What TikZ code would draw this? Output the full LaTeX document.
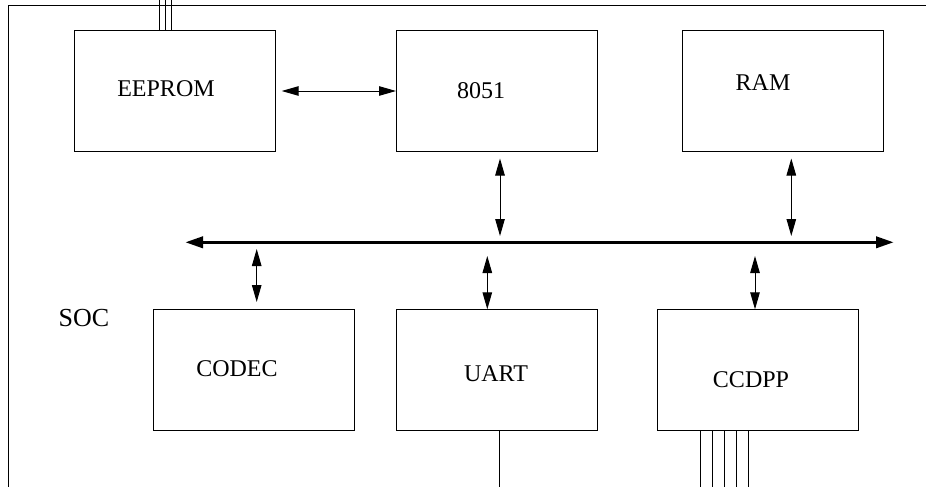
\documentclass[tikz,border=0pt]{standalone}
\usepackage{fontspec}
\setmainfont{Liberation Serif}
\usetikzlibrary{arrows.meta}

\tikzset{
  block/.style={draw, line width=1pt, minimum width=201pt, minimum height=121pt,
                inner sep=0pt, outer sep=0pt},
  lbl/.style={inner sep=0pt, font=\fontsize{24pt}{28pt}\selectfont},
  link/.style={line width=1pt, {Triangle[length=17pt,width=9.5pt]}-{Triangle[length=17pt,width=9.5pt]}},
  busline/.style={line width=3.6pt, {Triangle[length=18pt,width=11pt]}-{Triangle[length=18pt,width=11pt]}},
  wire/.style={line width=1pt}
}

\begin{document}
\begin{tikzpicture}[x=1pt, y=-1pt]
  \useasboundingbox (0,0) rectangle (926,487);

  % edge references
  \coordinate (pagetop) at (0,0);
  \coordinate (pagebot) at (0,487);

  % chip outline (only top and left sides fall inside the sheet)
  \draw[wire] (926,6) -- (8,6) -- (8,487);

  % top row of blocks
  \node[block] (eeprom) at (174.5,91.3) {};
  \node[block] (cpu)    at (496.5,91.3) {};
  \node[block] (ram)    at (782.5,91.3) {};

  % bottom row of blocks
  \node[block] (codec) at (253.5,369.8) {};
  \node[block] (uart)  at (496.5,369.8) {};
  \node[block] (ccdpp) at (757.5,369.8) {};

  % block captions
  \node[lbl] (teeprom) at (166,89)  {EEPROM};
  \node[lbl] (tcpu)    at (481,91)  {8051};
  \node[lbl] (tram)    at (763,83)  {RAM};
  \node[lbl] (tcodec)  at (237,369) {CODEC};
  \node[lbl] (tuart)   at (496,374) {UART};
  \node[lbl] (tccdpp)  at (751,380) {CCDPP};
  \node[inner sep=0pt, font=\fontsize{26pt}{30pt}\selectfont] (soc) at (84,318.5) {SOC};

  % system bus
  \coordinate (busL) at (185,242.3);
  \coordinate (busR) at (894,242.3);
  \draw[busline] (busL) -- (busR);

  % EEPROM <-> 8051
  \draw[link] ([xshift=6.7pt,yshift=0.3pt]eeprom.east) -- ([yshift=0.3pt]cpu.west);

  % bus taps above the bus
  \draw[link] ([xshift=3.5pt,yshift=-6.7pt]cpu.south) -- ([xshift=3.5pt,yshift=6.3pt]cpu.south |- busL);
  \draw[link] ([xshift=8.8pt,yshift=-6.7pt]ram.south) -- ([xshift=8.8pt,yshift=6.3pt]ram.south |- busL);

  % bus taps below the bus
  \draw[link] ([xshift=3.2pt,yshift=-6.7pt]codec.north |- busL) -- ([xshift=3.2pt,yshift=7.3pt]codec.north);
  \draw[link] ([xshift=-9.2pt,yshift=-13.7pt]uart.north |- busL) -- ([xshift=-9.2pt]uart.north);
  \draw[link] ([xshift=-2.5pt,yshift=-13.7pt]ccdpp.north |- busL) -- ([xshift=-2.5pt]ccdpp.north);

  % EEPROM pins
  \foreach \dx in {-15.2,-9.2,-3.2}
    \draw[wire] ([xshift=\dx pt]eeprom.north) -- ([xshift=\dx pt]eeprom.north |- pagetop);

  % UART serial line
  \draw[wire] ([xshift=3.2pt]uart.south) -- ([xshift=3.2pt]uart.south |- pagebot);

  % CCDPP pins
  \foreach \dx in {-57,-45,-33,-21,-9}
    \draw[wire] ([xshift=\dx pt]ccdpp.south) -- ([xshift=\dx pt]ccdpp.south |- pagebot);
\end{tikzpicture}
\end{document}
